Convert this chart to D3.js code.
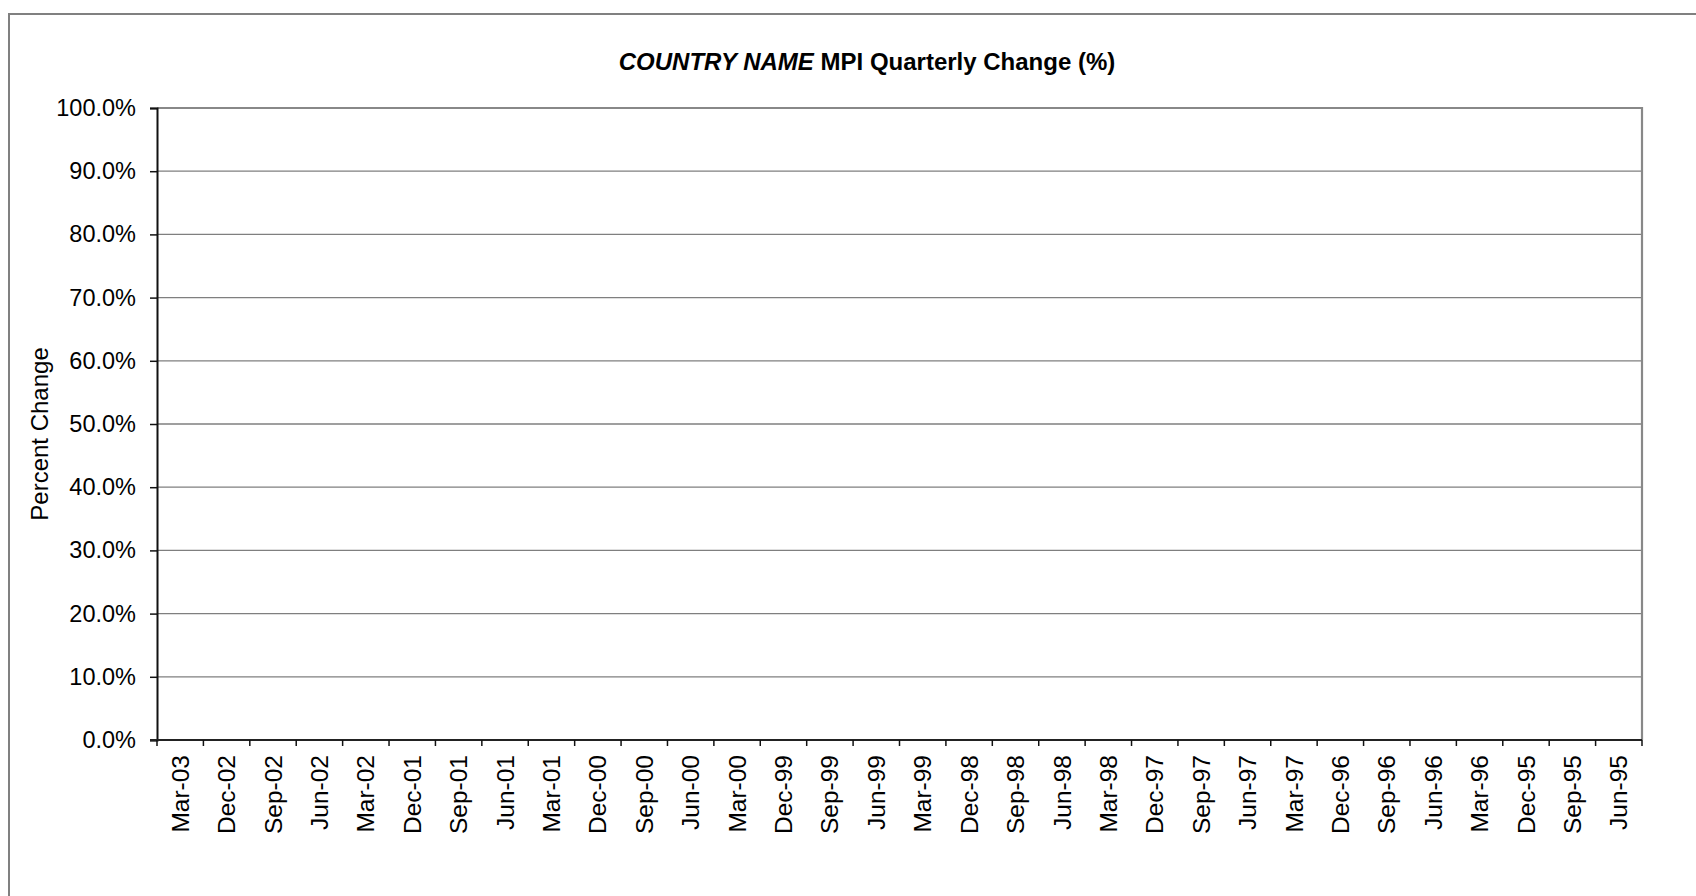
<!DOCTYPE html>
<html>
<head>
<meta charset="utf-8">
<script src="https://cdn.jsdelivr.net/npm/d3@7"></script>
<style>
  html, body { margin: 0; padding: 0; background: #fff; }
  svg { display: block; font-family: "Liberation Sans", Arial, sans-serif; }
</style>
</head>
<body>
<svg id="chart" width="1696" height="896"></svg>
<script>
// Data
const categories = ["Mar-03","Dec-02","Sep-02","Jun-02","Mar-02","Dec-01","Sep-01","Jun-01","Mar-01","Dec-00","Sep-00","Jun-00","Mar-00","Dec-99","Sep-99","Jun-99","Mar-99","Dec-98","Sep-98","Jun-98","Mar-98","Dec-97","Sep-97","Jun-97","Mar-97","Dec-96","Sep-96","Jun-96","Mar-96","Dec-95","Sep-95","Jun-95"];
const values = [];            // no data plotted in the reference
const yTicks = [0,0.1,0.2,0.3,0.4,0.5,0.6,0.7,0.8,0.9,1.0];
const titleItalic = "COUNTRY NAME";
const titleRest = " MPI Quarterly Change (%)";
const yTitle = "Percent Change";

const svg = d3.select("#chart");
const W = 1696, H = 896;
const m = {left: 157, top: 108, right: 1642, bottom: 740};

// Outer frame
svg.append("rect").attr("x", 9).attr("y", 14).attr("width", W + 20).attr("height", H + 20)
  .attr("fill", "#fff").attr("stroke", "#808080").attr("stroke-width", 2);

const x = d3.scaleBand().domain(categories).range([m.left, m.right]).padding(0);
const y = d3.scaleLinear().domain([0, 1]).range([m.bottom, m.top]);

// Gridlines
svg.append("g").selectAll("line").data(yTicks.filter(d => d > 0 && d < 1)).join("line")
  .attr("x1", m.left).attr("x2", m.right)
  .attr("y1", d => y(d)).attr("y2", d => y(d))
  .attr("stroke", "#7f7f7f").attr("stroke-width", 1.3);

// Top & right plot border (gray)
svg.append("path")
  .attr("d", `M${m.left},${m.top}H${m.right}V${m.bottom}`)
  .attr("fill", "none").attr("stroke", "#888").attr("stroke-width", 2.2);

// Y axis
const yAxis = d3.axisLeft(y).tickValues(yTicks).tickFormat(d3.format(".1%")).tickSize(7).tickPadding(14);
const gy = svg.append("g").attr("transform", `translate(${m.left},0)`).call(yAxis);
gy.select(".domain").attr("stroke", "#111").attr("stroke-width", 2);
gy.selectAll(".tick line").attr("stroke", "#111").attr("stroke-width", 1.5);
gy.selectAll(".tick text").attr("font-size", 23.5).attr("fill", "#000")
  .attr("font-family", "'Liberation Sans', Arial, sans-serif");

// X axis (ticks at band boundaries)
const gx = svg.append("g").attr("transform", `translate(0,${m.bottom})`);
gx.append("line").attr("x1", m.left - 7).attr("x2", m.right).attr("y1", 0).attr("y2", 0)
  .attr("stroke", "#222").attr("stroke-width", 2);
const boundaries = categories.map(c => x(c)).concat([x(categories[categories.length-1]) + x.bandwidth()]);
gx.selectAll("line.tk").data(boundaries).join("line").attr("class", "tk")
  .attr("x1", d => d).attr("x2", d => d).attr("y1", 0).attr("y2", 6)
  .attr("stroke", "#111").attr("stroke-width", 1.5);
gx.selectAll("text").data(categories).join("text")
  .attr("transform", d => `translate(${x(d) + x.bandwidth()/2},15) rotate(-90)`)
  .attr("text-anchor", "end").attr("dy", "0.35em")
  .attr("font-size", 24.5).attr("fill", "#000")
  .text(d => d);

// Title
const t = svg.append("text").attr("x", 867).attr("y", 70).attr("text-anchor", "middle")
  .attr("font-size", 24).attr("font-weight", "bold").attr("fill", "#000");
t.append("tspan").attr("font-style", "italic").text(titleItalic);
t.append("tspan").text(titleRest);

// Y title
svg.append("text").attr("transform", "translate(40,434) rotate(-90)")
  .attr("text-anchor", "middle").attr("dy", "0.35em")
  .attr("font-size", 24).attr("fill", "#000").text(yTitle);
</script>
</body>
</html>
